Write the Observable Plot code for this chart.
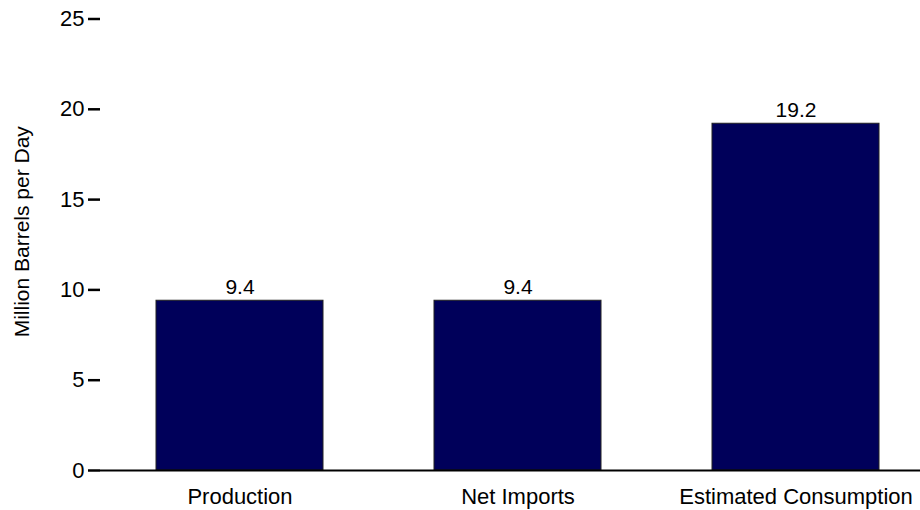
<!DOCTYPE html>
<html>
<head>
<meta charset="utf-8">
<script src="https://cdn.jsdelivr.net/npm/d3@7"></script>
<script src="https://cdn.jsdelivr.net/npm/@observablehq/plot@0.6"></script>
<style>
  html, body { margin: 0; padding: 0; background: #fff; }
  #chart svg { display: block; }
</style>
</head>
<body>
<div id="chart"></div>
<script>
const categories = ["Production", "Net Imports", "Estimated Consumption"];
const values = [9.4, 9.4, 19.2];
const valueLabels = ["9.4", "9.4", "19.2"];
const yTicks = [0, 5, 10, 15, 20, 25];
const yLabel = "Million Barrels per Day";

const data = categories.map((c, i) => ({category: c, value: values[i], label: valueLabels[i]}));

const chart = Plot.plot({
  width: 920,
  height: 510,
  marginLeft: 100,
  marginRight: 0,
  marginTop: 18.5,
  marginBottom: 40,
  style: {fontFamily: "'Liberation Sans', Arial, sans-serif", fontSize: "22px", color: "#000", background: "#fff"},
  x: {domain: categories, paddingInner: 0.4, paddingOuter: 0.17, align: 0.58, label: null},
  y: {domain: [0, 25], label: null},
  marks: [
    Plot.barY(data, {x: "category", y: "value", fill: "#00005A", stroke: "#222", strokeWidth: 1}),
    Plot.text(data, {x: "category", y: "value", text: "label", lineAnchor: "bottom", dy: -7, fontSize: 21, fill: "#000"}),
    Plot.ruleY([0], {stroke: "#000", strokeWidth: 2}),
    Plot.axisX({tickSize: 0, tickPadding: 18, label: null, fontSize: 22}),
    Plot.axisY({ticks: yTicks, tickSize: 12, tickPadding: 4, strokeWidth: 2.5, label: null, fontSize: 22}),
    Plot.text([yLabel], {frameAnchor: "left", rotate: -90, dx: -78, dy: -13, fontSize: 21, fill: "#000", textAnchor: "middle", lineAnchor: "middle"})
  ]
});
document.getElementById("chart").appendChild(chart);
</script>
</body>
</html>
